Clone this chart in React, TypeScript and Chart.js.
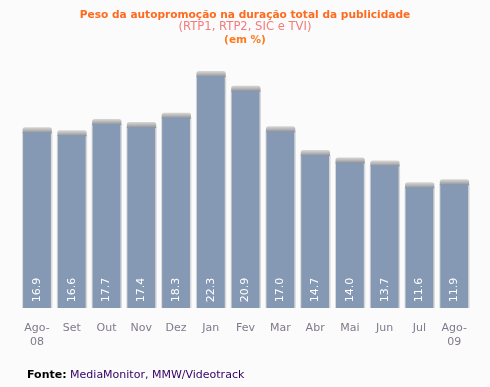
import React, { useEffect, useRef } from "react";
import { Chart, registerables } from "chart.js";

Chart.register(...registerables);

const categories: (string | string[])[] = [
  ["Ago-", "08"], "Set", "Out", "Nov", "Dez", "Jan", "Fev", "Mar", "Abr", "Mai", "Jun", "Jul", ["Ago-", "09"],
];
const values: number[] = [16.9, 16.6, 17.7, 17.4, 18.3, 22.3, 20.9, 17.0, 14.7, 14.0, 13.7, 11.6, 11.9];

const titleText = "Peso da autopromoção na duração total da publicidade";
const subtitleText = "(RTP1, RTP2, SIC e TVI)";
const unitText = "(em %)";
const sourceLabel = "Fonte:";
const sourceText = "MediaMonitor, MMW/Videotrack";

const FONT = "'DejaVu Sans', Verdana, sans-serif";

const barDecor = {
  id: "barDecor",
  beforeDatasetsDraw(chart: any) {
    const ctx = chart.ctx;
    const meta = chart.getDatasetMeta(0);
    meta.data.forEach((el: any) => {
      const { x, y, base, width } = el.getProps(["x", "y", "base", "width"], true);
      const left = x - width / 2;
      ctx.save();
      ctx.fillStyle = "#d8d8d8";
      ctx.fillRect(left - 1, y, width + 2.5, base - y);
      const g = ctx.createLinearGradient(0, y - 5, 0, y);
      g.addColorStop(0, "rgba(205,205,205,0.8)");
      g.addColorStop(1, "#9a9a9a");
      ctx.fillStyle = g;
      ctx.beginPath();
      (ctx as any).roundRect(left - 0.5, y - 5, width + 1.5, 6, [2.5, 2.5, 0, 0]);
      ctx.fill();
      ctx.restore();
    });
  },
  afterDatasetsDraw(chart: any) {
    const ctx = chart.ctx;
    const meta = chart.getDatasetMeta(0);
    meta.data.forEach((el: any, i: number) => {
      const { x, base } = el.getProps(["x", "base"], true);
      ctx.save();
      ctx.translate(x, base - 18);
      ctx.rotate(-Math.PI / 2);
      ctx.fillStyle = "#ffffff";
      ctx.font = `11px ${FONT}`;
      ctx.textAlign = "center";
      ctx.textBaseline = "middle";
      ctx.fillText(values[i].toFixed(1), 0, 0);
      ctx.restore();
    });
  },
};

export default function App() {
  const ref = useRef<HTMLCanvasElement>(null);
  useEffect(() => {
    const chart = new Chart(ref.current!, {
      type: "bar",
      data: {
        labels: categories,
        datasets: [
          {
            data: values,
            backgroundColor: "#8599b4",
            borderWidth: 0,
            barPercentage: 0.8,
            categoryPercentage: 1,
          },
        ],
      },
      options: {
        responsive: false,
        animation: false,
        layout: { padding: { left: 19.6, right: 18.4, top: 48, bottom: 19 } },
        plugins: { legend: { display: false }, tooltip: { enabled: false }, title: { display: false } },
        scales: {
          y: { display: false, min: 0, max: 25 },
          x: {
            grid: { display: false, drawTicks: false },
            border: { display: false },
            ticks: {
              color: "#80798a",
              font: { family: FONT, size: 11, lineHeight: 1.27 },
              padding: 13,
              maxRotation: 0,
              autoSkip: false,
            },
            afterFit: (s: any) => {
              s.height = 60;
            },
          },
        },
      },
      plugins: [barDecor],
    });
    return () => chart.destroy();
  }, []);

  return (
    <div
      style={{
        position: "fixed",
        left: 0,
        top: 0,
        width: 490,
        height: 387,
        background: "#fbfbfb",
        fontFamily: FONT,
        overflow: "hidden",
      }}
    >
      <canvas ref={ref} width={490} height={387} style={{ position: "absolute", left: 0, top: 0 }} />
      <div style={{ position: "absolute", left: 0, top: 8, width: 490, textAlign: "center", fontSize: 10.6, fontWeight: "bold", color: "#ff6a1f", lineHeight: "13px", whiteSpace: "nowrap" }}>
        {titleText}
      </div>
      <div style={{ position: "absolute", left: 0, top: 20, width: 490, textAlign: "center", fontSize: 11.6, color: "#f27c7c", lineHeight: "13px", whiteSpace: "nowrap" }}>
        {subtitleText}
      </div>
      <div style={{ position: "absolute", left: 0, top: 33, width: 490, textAlign: "center", fontSize: 10.5, fontWeight: "bold", color: "#ff7a1f", lineHeight: "13px", whiteSpace: "nowrap" }}>
        {unitText}
      </div>
      <div style={{ position: "absolute", left: 27, top: 368, fontSize: 11, lineHeight: "14px", whiteSpace: "nowrap" }}>
        <span style={{ fontWeight: "bold", color: "#000000" }}>{sourceLabel}</span>{" "}
        <span style={{ color: "#330066" }}>{sourceText}</span>
      </div>
    </div>
  );
}
